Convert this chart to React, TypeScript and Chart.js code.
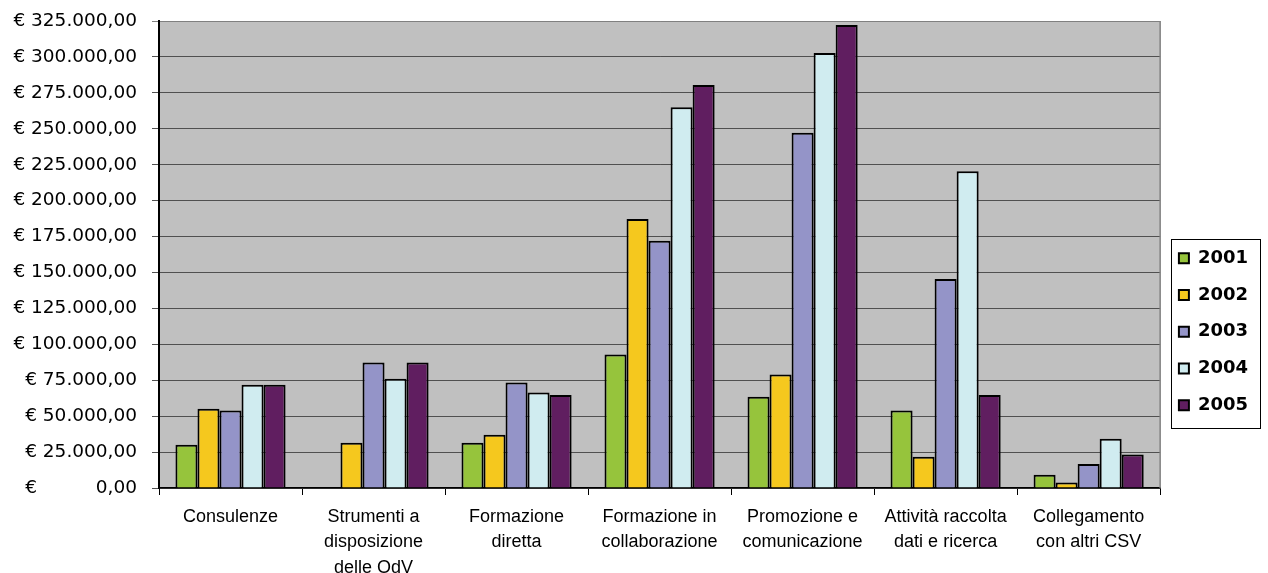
import React, { useEffect, useRef } from 'react';
import { Chart, registerables } from 'chart.js';

Chart.register(...registerables);

const categories: (string | string[])[] = [
  'Consulenze',
  ['Strumenti a', 'disposizione', 'delle OdV'],
  ['Formazione', 'diretta'],
  ['Formazione in', 'collaborazione'],
  ['Promozione e', 'comunicazione'],
  ['Attività raccolta', 'dati e ricerca'],
  ['Collegamento', 'con altri CSV'],
];

const years = ['2001', '2002', '2003', '2004', '2005'];

const values2001: (number | null)[] = [30100, null, 31500, 92900, 63500, 54000, 9200];
const values2002: (number | null)[] = [55100, 31500, 37000, 187200, 79000, 21800, 3900];
const values2003: (number | null)[] = [54000, 87300, 73400, 172000, 247200, 145500, 16700];
const values2004: (number | null)[] = [71800, 76000, 66500, 265000, 302800, 220500, 34200];
const values2005: (number | null)[] = [71800, 87300, 64800, 280500, 322200, 64800, 23400];

const seriesValues = [values2001, values2002, values2003, values2004, values2005];
const seriesColors = ['#96C43C', '#F5C81E', '#9494C8', '#D0ECF0', '#601E60'];

const yMin = 0;
const yMax = 325000;
const yStep = 25000;

function formatEuro(v: number): string {
  if (v === 0) return '€          0,00';
  const s = Math.round(v)
    .toString()
    .replace(/\B(?=(\d{3})+(?!\d))/g, '.');
  return '€ ' + s + ',00';
}

const plotBackground = {
  id: 'plotBackground',
  beforeDraw(chart: any) {
    const { ctx, chartArea } = chart;
    ctx.save();
    ctx.fillStyle = '#C0C0C0';
    ctx.fillRect(chartArea.left, chartArea.top, chartArea.right - chartArea.left, chartArea.bottom - chartArea.top);
    ctx.restore();
  },
  beforeDatasetsDraw(chart: any) {
    const { ctx, chartArea } = chart;
    ctx.save();
    ctx.strokeStyle = '#808080';
    ctx.lineWidth = 1.5;
    ctx.beginPath();
    ctx.moveTo(chartArea.right, chartArea.top);
    ctx.lineTo(chartArea.right, chartArea.bottom);
    ctx.stroke();
    ctx.restore();
  },
};

const legendFrame = {
  id: 'legendFrame',
  afterDraw(chart: any) {
    const legend = chart.legend;
    if (!legend || !legend.legendHitBoxes || !legend.legendHitBoxes.length) return;
    const boxes = legend.legendHitBoxes;
    let l = Infinity, t = Infinity, r = -Infinity, b = -Infinity;
    boxes.forEach((h: any) => {
      l = Math.min(l, h.left);
      t = Math.min(t, h.top);
      r = Math.max(r, h.left + h.width);
      b = Math.max(b, h.top + h.height);
    });
    const { ctx } = chart;
    ctx.save();
    ctx.strokeStyle = '#000';
    ctx.lineWidth = 1;
    ctx.strokeRect(Math.round(l - 8) + 0.5, Math.round(t - 10) + 0.5, Math.round(r - l + 20), Math.round(b - t + 24));
    ctx.restore();
  },
};

export default function App() {
  const canvasRef = useRef<HTMLCanvasElement | null>(null);

  useEffect(() => {
    if (!canvasRef.current) return;
    const chart = new Chart(canvasRef.current, {
      type: 'bar',
      data: {
        labels: categories as any,
        datasets: years.map((y, i) => ({
          label: y,
          data: seriesValues[i] as any,
          backgroundColor: seriesColors[i],
          borderColor: '#000000',
          borderWidth: 2,
          barPercentage: 1,
          categoryPercentage: 0.77,
        })),
      },
      options: {
        animation: false,
        responsive: true,
        maintainAspectRatio: false,
        layout: { padding: { top: 21, right: 10, bottom: 0, left: 0 } },
        plugins: {
          tooltip: { enabled: false },
          legend: {
            position: 'right',
            align: 'center',
            title: { display: true, text: ' ', padding: { top: 55, bottom: 0 }, font: { size: 12 } },
            labels: {
              boxWidth: 10,
              boxHeight: 10,
              padding: 18.75,
              color: '#000',
              font: { family: "'DejaVu Sans', sans-serif", size: 18, weight: 'bold' },
            },
          },
        },
        scales: {
          x: {
            grid: {
              display: true,
              drawOnChartArea: false,
              drawTicks: true,
              tickLength: 7,
              color: '#000',
              offset: true,
            },
            border: { display: true, color: '#000', width: 1.5 },
            ticks: {
              color: '#000',
              padding: 9,
              maxRotation: 0,
              autoSkip: false,
              font: { family: "'Liberation Sans', Arial, sans-serif", size: 18, lineHeight: 1.42 },
            },
            afterFit: (scale: any) => {
              scale.height = 85;
            },
          },
          y: {
            min: yMin,
            max: yMax,
            grid: {
              color: (ctx: any) => (ctx.tick && ctx.tick.value === yMax ? '#808080' : '#505050'),
              lineWidth: 1,
              tickLength: 7,
              drawTicks: true,
            },
            border: { display: true, color: '#000', width: 2 },
            ticks: {
              stepSize: yStep,
              color: '#000',
              padding: 15,
              font: { family: "'DejaVu Sans', sans-serif", size: 18.5 },
              callback: (v: any) => formatEuro(Number(v)),
            },
            afterFit: (scale: any) => {
              scale.width = 159;
              scale.paddingTop = 0;
            },
          },
        },
      },
      plugins: [plotBackground, legendFrame],
    } as any);
    return () => chart.destroy();
  }, []);

  return (
    <div style={{ position: 'absolute', left: 0, top: 0, width: 1268, height: 573, background: '#fff' }}>
      <canvas ref={canvasRef} />
    </div>
  );
}
